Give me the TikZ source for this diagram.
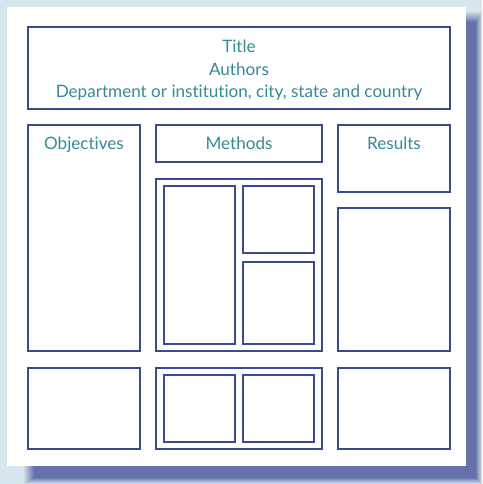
\documentclass[tikz,border=0pt]{standalone}
\usepackage{fontspec}
\setmainfont{Lato}[Ligatures=NoCommon]
\definecolor{frame}{HTML}{3C4A94}
\definecolor{label}{HTML}{368A98}
\definecolor{backdrop}{HTML}{D6E6EC}
\definecolor{shade}{HTML}{6770AB}
\tikzset{
  box/.style={draw=frame, line width=1.3pt},
  heading/.style={text=label, font=\fontsize{17.1}{20}\selectfont, anchor=base, inner sep=0pt},
}

\begin{document}
\begin{tikzpicture}[x=1pt, y=-1pt]
    % canvas, shadow and page
    \useasboundingbox (0,0) rectangle (482,484);
    \fill[backdrop] (0,0) rectangle (482,484);
    \foreach \i in {0,...,10}
      \fill[shade!\the\numexpr 10+9*\i\relax!backdrop] (24+\i,12+\i) rectangle (482-0.6*\i,484-0.6*\i);
    \fill[white] (7,7) rectangle (466,466);
    % title block
    \draw[box] (28,27)   rectangle (450,109);
    \node[heading] (title)   at (239,53) {Title};
    \node[heading] (authors) at (239,76) {Authors};
    \node[heading] (dept)    at (239,98) {Department or institution, city, state and country};
    % left column
    \draw[box] (28,125)  rectangle (140,351);
    \node[heading] (objectives) at (84,149) {Objectives};
    \draw[box] (28,368)  rectangle (140,449);
    % middle column
    \draw[box] (156,125) rectangle (322,162);
    \node[heading] (methods) at (239,149) {Methods};
    \draw[box] (156,179) rectangle (322,351);
    \draw[box] (164,186) rectangle (235,344);
    \draw[box] (243,186) rectangle (314,253);
    \draw[box] (243,262) rectangle (314,344);
    \draw[box] (156,368) rectangle (322,449);
    \draw[box] (164,375) rectangle (235,442);
    \draw[box] (243,375) rectangle (314,442);
    % right column
    \draw[box] (338,125) rectangle (450,192);
    \node[heading] (results) at (394,149) {Results};
    \draw[box] (338,208) rectangle (450,351);
    \draw[box] (338,368) rectangle (450,449);
  \end{tikzpicture}
\end{document}
